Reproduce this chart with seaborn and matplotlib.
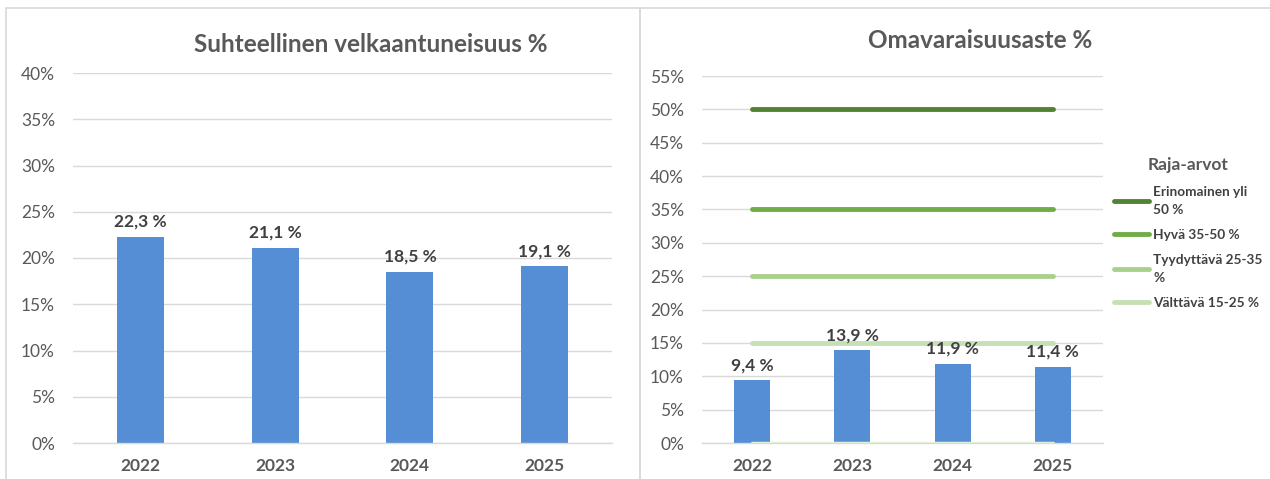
import matplotlib
matplotlib.use("Agg")
import matplotlib.pyplot as plt
import seaborn as sns
import pandas as pd
from matplotlib.patches import Rectangle
from matplotlib.ticker import FuncFormatter, MultipleLocator

years = ["2022", "2023", "2024", "2025"]
velka = [22.3, 21.1, 18.5, 19.1]
omavarai = [9.4, 13.9, 11.9, 11.4]
raja_labels = ["Erinomainen yli\n50 %", "Hyvä 35-50 %", "Tyydyttävä 25-35\n%", "Välttävä 15-25 %"]
raja_values = [50, 35, 25, 15]
raja_colors = ["#548235", "#70AD47", "#A9D18E", "#C5E0B4"]
zero_line = [0, 0, 0, 0]

title_left = "Suhteellinen velkaantuneisuus %"
title_right = "Omavaraisuusaste %"
legend_title = "Raja-arvot"

sns.set_theme(style="white")
plt.rcParams["font.family"] = ["Lato", "DejaVu Sans"]

BAR = "#558ED5"
GRID = "#D9D9D9"
TICK = "#595959"
LABEL = "#404040"

fig = plt.figure(figsize=(12.70, 4.79), dpi=100)
W, H = 1270, 479

def fx(x):
    return x / W

def fy(y):
    return 1 - y / H

# panel frames
for (x0, x1) in [(6, 640), (640, 1272)]:
    fig.patches.append(Rectangle((fx(x0), fy(482)), fx(x1 - x0), (482 - 8) / H,
                                 transform=fig.transFigure, fill=False,
                                 edgecolor="#D9D9D9", linewidth=1.2))

def pct(v, pos):
    return f"{int(round(v))}%"

def style_axis(ax, ymax):
    ax.set_ylim(0, ymax)
    ax.yaxis.set_major_locator(MultipleLocator(5))
    ax.yaxis.set_major_formatter(FuncFormatter(pct))
    ax.set_xlim(-0.5, 3.5)
    ax.grid(axis="y", color=GRID, linewidth=1.0)
    ax.set_axisbelow(True)
    for s in ["top", "right", "left"]:
        ax.spines[s].set_visible(False)
    ax.spines["bottom"].set_color(GRID)
    ax.spines["bottom"].set_linewidth(1.0)
    ax.tick_params(axis="y", length=0, labelsize=12.5, labelcolor=TICK, pad=13)
    ax.set_xticks(range(4))
    ax.set_xticklabels(years, fontsize=12.5, fontweight="bold", color=TICK)
    ax.tick_params(axis="x", which="major", length=0, pad=11)
    ax.set_xticks([-0.5, 0.5, 1.5, 2.5, 3.5], minor=True)
    ax.tick_params(axis="x", which="minor", length=5, color=GRID, width=1.0, direction="out")
    ax.set_xlabel("")
    ax.set_ylabel("")

# Left chart
axL = fig.add_axes([fx(73), fy(443), fx(612 - 73), (443 - 73) / H])
dfL = pd.DataFrame({"year": years, "val": velka})
sns.barplot(data=dfL, x="year", y="val", color=BAR, width=0.35, ax=axL,
            saturation=1, edgecolor="none")
style_axis(axL, 40)
for i, v in enumerate(velka):
    axL.annotate(f"{v:.1f} %".replace(".", ","), (i, v), xytext=(0, 5),
                 textcoords="offset points", ha="center", va="bottom",
                 fontsize=12.5, fontweight="bold", color=LABEL)
fig.text(fx(371), fy(45), title_left, ha="center", va="center",
         fontsize=17.5, fontweight="bold", color=TICK)

# Right chart
axR = fig.add_axes([fx(702), fy(443), fx(1103 - 702), (443 - 76) / H])
dfR = pd.DataFrame({"year": years, "val": omavarai})
sns.barplot(data=dfR, x="year", y="val", color=BAR, width=0.36, ax=axR,
            saturation=1, edgecolor="none", zorder=2)
style_axis(axR, 55)
xs = list(range(4))
sns.lineplot(x=xs, y=zero_line, color="#E2F0D9", linewidth=2.5, ax=axR, zorder=3,
             solid_capstyle="round")
handles = []
for lab, val, col in zip(raja_labels, raja_values, raja_colors):
    ln = axR.plot(xs, [val] * 4, color=col, linewidth=3.5, solid_capstyle="round",
                  zorder=3, label=lab)[0]
    handles.append(ln)
for i, v in enumerate(omavarai):
    axR.annotate(f"{v:.1f} %".replace(".", ","), (i, v), xytext=(0, 5),
                 textcoords="offset points", ha="center", va="bottom",
                 fontsize=12.5, fontweight="bold", color=LABEL, zorder=5)
fig.text(fx(980), fy(40), title_right, ha="center", va="center",
         fontsize=17.5, fontweight="bold", color=TICK)

leg = fig.legend(handles=handles, labels=raja_labels, title=legend_title,
                 loc="upper left", bbox_to_anchor=(fx(1103), fy(146)),
                 frameon=False, fontsize=9.8, handlelength=2.6, handletextpad=0.3,
                 borderpad=0.3, labelspacing=0.95,
                 title_fontproperties={"weight": "bold", "size": 12.5})
for t in leg.get_texts():
    t.set_color(LABEL)
    t.set_fontweight("bold")
    t.set_linespacing(1.6)
leg.get_title().set_color(TICK)

fig.savefig("out.png", dpi=100)
